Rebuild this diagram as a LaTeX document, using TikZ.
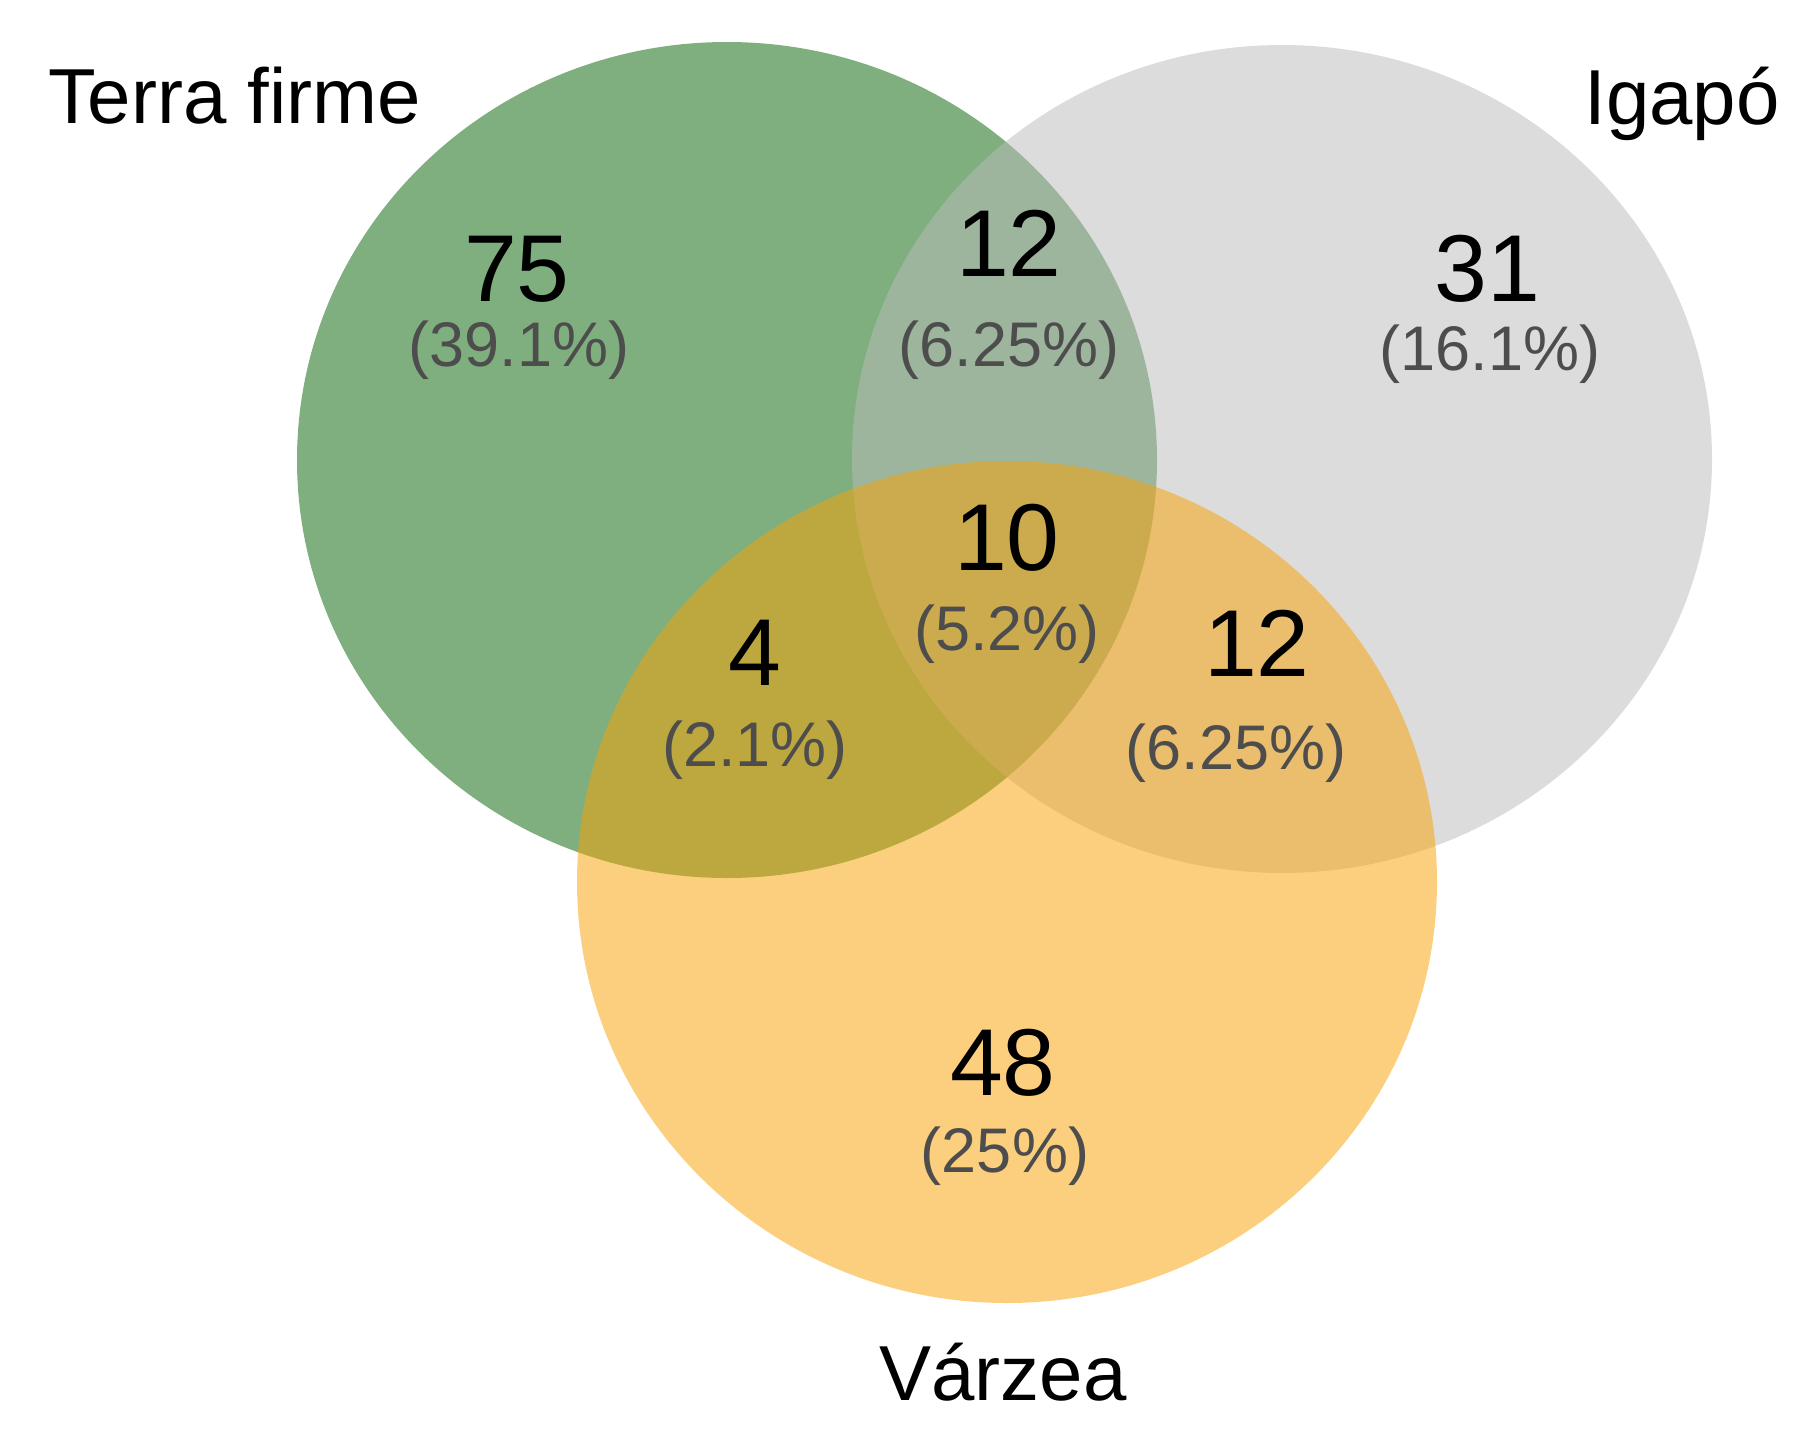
\documentclass[tikz,border=0pt]{standalone}
\usepackage{fontspec}
\setmainfont{Liberation Sans}
\definecolor{tfgreen}{RGB}{0,97,0}
\definecolor{iggray}{RGB}{187,187,187}
\definecolor{vzorange}{RGB}{251,161,0}
\definecolor{pctgray}{RGB}{77,77,77}
\begin{document}
\begin{tikzpicture}[x=1pt,y=-1pt,
  setfill/.style={fill opacity=0.5},
  lab/.style={font=\fontsize{78}{90}\selectfont, anchor=base, inner sep=0pt},
  num/.style={font=\fontsize{95}{110}\selectfont, anchor=base, inner sep=0pt},
  pct/.style={font=\fontsize{63}{75}\selectfont, text=pctgray, anchor=base, inner sep=0pt}]
\useasboundingbox[fill=white] (0,0) rectangle (1808,1444);
% sets
\fill[tfgreen, setfill] (727,460) ellipse [x radius=430pt, y radius=418pt];
\fill[iggray, setfill] (1282,459) ellipse [x radius=430pt, y radius=414pt];
\fill[vzorange, setfill] (1007,882) ellipse [x radius=430pt, y radius=421pt];
% set labels
\node[lab] (ltf) at (235,123) {Terra firme};
\node[lab] (lig) at (1682,124) {Igapó};
\node[lab] (lvz) at (1003,1400) {Várzea};
% counts
\node[num] (n75) at (517,301) {75};
\node[pct] (p75) at (519,366) {(39.1\%)};
\node[num] (n12a) at (1009,276) {12};
\node[pct] (p12a) at (1009,366) {(6.25\%)};
\node[num] (n31) at (1487,301) {31};
\node[pct] (p31) at (1490,370) {(16.1\%)};
\node[num] (n10) at (1007,570) {10};
\node[pct] (p10) at (1007,650) {(5.2\%)};
\node[num] (n4) at (755,685) {4};
\node[pct] (p4) at (755,766) {(2.1\%)};
\node[num] (n12b) at (1257,676) {12};
\node[pct] (p12b) at (1236,769) {(6.25\%)};
\node[num] (n48) at (1003,1095) {48};
\node[pct] (p48) at (1005,1172) {(25\%)};
\end{tikzpicture}
\end{document}
